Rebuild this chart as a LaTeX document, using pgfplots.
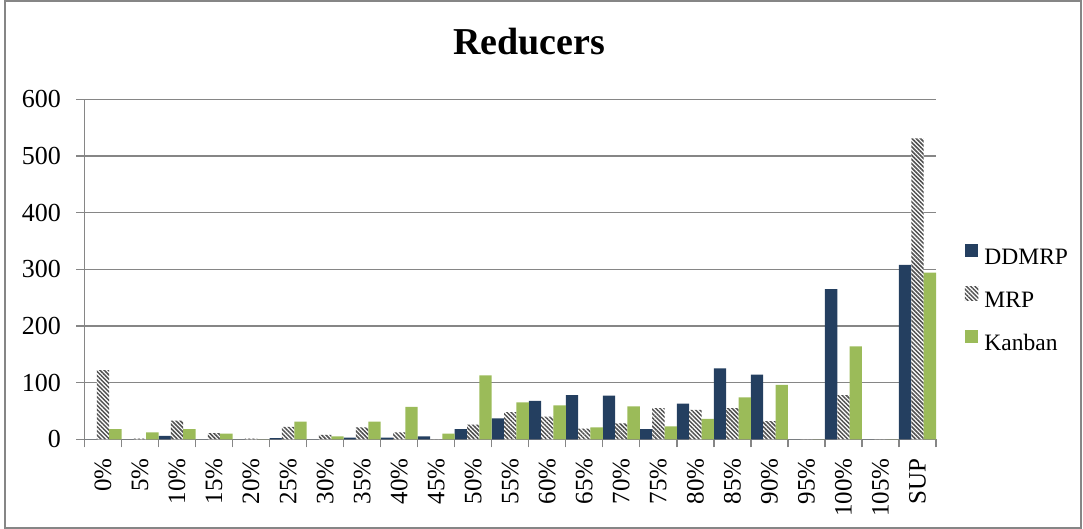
\documentclass[border=0pt]{standalone}
\usepackage{pgfplots}
\pgfplotsset{compat=1.18}
\usepackage{fontspec}
\setmainfont{Liberation Serif}
\usetikzlibrary{patterns.meta}
\definecolor{ddmrp}{HTML}{243F60}
\definecolor{kanban}{HTML}{9BBB59}
\definecolor{hatch}{HTML}{505050}
\definecolor{axgray}{HTML}{868686}
\pgfplotsset{sqleg/.style={legend image code/.code={\path[##1] (0pt,1.5pt) rectangle (13.5pt,15pt);}}}
\begin{document}
\begin{tikzpicture}[x=1pt,y=1pt]
\useasboundingbox (-84.5,-89.7) rectangle (998.5,439.3);
\draw[axgray, line width=1.3pt] (-79.5,-88.7) rectangle (996.5,438.3);
\node[font=\fontsize{38}{42}\selectfont\bfseries, anchor=base, inner sep=0pt] at (444.5,384.3) {Reducers};
\begin{axis}[
  at={(0pt,0pt)}, anchor=south west, scale only axis, width=851.5pt, height=340pt,
  ybar, bar width=0.3333,
  xmin=-0.5, xmax=22.5, ymin=0, ymax=600,
  ytick={0,100,...,600},
  minor ytick={0,100,...,600},
  xtick={0,...,22},
  xticklabels={0\%,5\%,10\%,15\%,20\%,25\%,30\%,35\%,40\%,45\%,50\%,55\%,60\%,65\%,70\%,75\%,80\%,85\%,90\%,95\%,100\%,105\%,SUP},
  minor xtick={-0.5,0.5,...,22.5},
  tick align=outside, major tick length=0pt, minor tick length=8pt,
  axis x line*=bottom, axis y line*=left,
  axis line style={axgray, line width=1.3pt},
  tick style={axgray, line width=1.3pt},
  ymajorgrids, grid style={axgray, line width=1.3pt},
  /pgf/number format/assume math mode=true,
  yticklabel style={font=\fontsize{26}{30}\selectfont, inner sep=0pt, anchor=east, xshift=-23.5pt},
  xticklabel style={font=\fontsize{25}{30}\selectfont, rotate=90, anchor=east, inner sep=0pt, xshift=-18.7pt},
  legend style={draw=none, fill=none, inner sep=0pt, outer sep=0pt,
    at={(1.034,0.41)}, anchor=west,
    nodes={inner sep=0pt, font=\fontsize{23.5}{28}\selectfont, text height=17pt, text depth=5pt},
    column sep=6pt, row sep=17pt},
  legend cell align=left,
]
\addplot[fill=ddmrp, draw=none, bar shift=-0.3333, sqleg] coordinates {
(0,0) (1,0) (2,6) (3,0) (4,0) (5,2) (6,0) (7,3) (8,3) (9,5) (10,18) (11,37) (12,68) (13,78) (14,77) (15,18) (16,63) (17,125) (18,114) (19,0) (20,265) (21,0) (22,308)};
\addplot[fill=white, draw=none, bar shift=0, postaction={pattern={Lines[angle=-45,distance=3pt,line width=1.5pt]}, pattern color=hatch}, sqleg] coordinates {
(0,122) (1,1) (2,33) (3,11) (4,1) (5,22) (6,8) (7,21) (8,12) (9,0) (10,26) (11,48) (12,40) (13,19) (14,28) (15,55) (16,52) (17,55) (18,32) (19,0) (20,78) (21,0) (22,531)};
\addplot[fill=kanban, draw=none, bar shift=0.3333, sqleg] coordinates {
(0,18) (1,12) (2,18) (3,10) (4,0) (5,31) (6,5) (7,31) (8,57) (9,10) (10,113) (11,65) (12,60) (13,21) (14,58) (15,23) (16,36) (17,74) (18,96) (19,0) (20,164) (21,0) (22,294)};
\legend{DDMRP,MRP,Kanban}
\end{axis}
\end{tikzpicture}
\end{document}
